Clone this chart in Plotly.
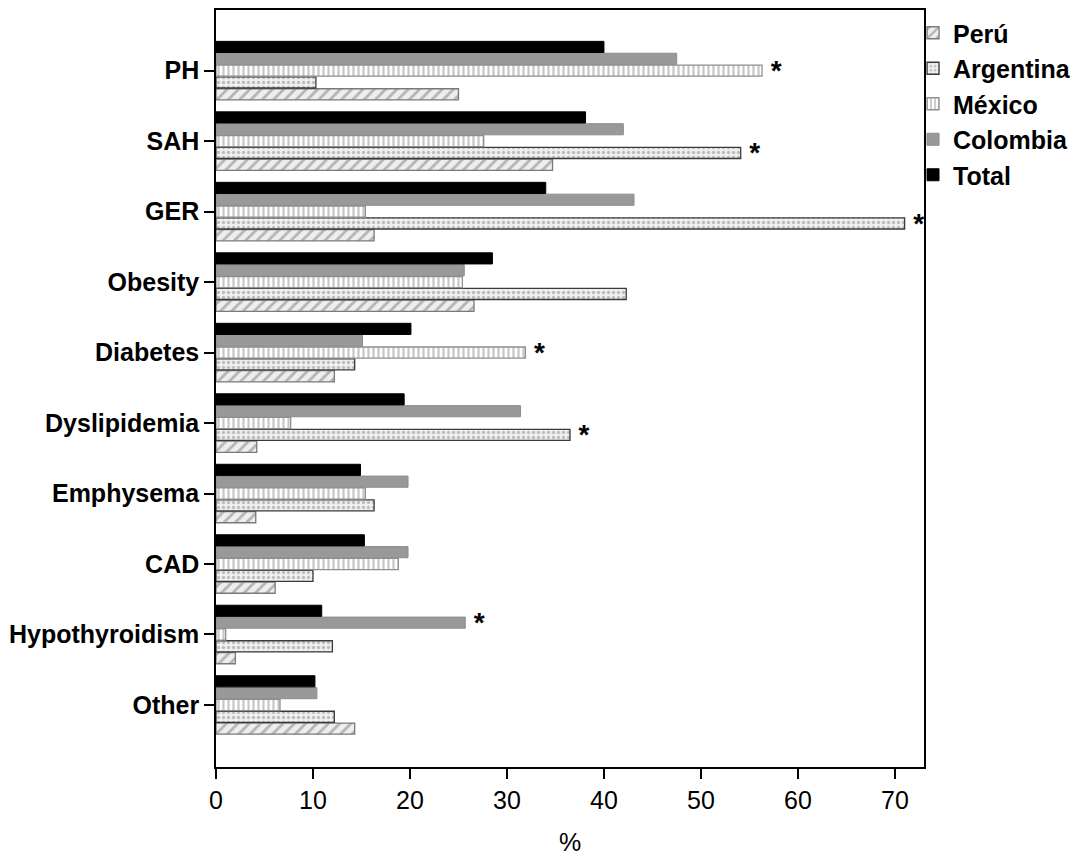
import plotly.graph_objects as go


# Categories from top to bottom of the chart
CATEGORIES = [
    "PH", "SAH", "GER", "Obesity", "Diabetes",
    "Dyslipidemia", "Emphysema", "CAD", "Hypothyroidism", "Other",
]

# Percent values, same order as CATEGORIES
PERU = [25.0, 34.7, 16.3, 26.6, 12.2, 4.2, 4.1, 6.1, 2.0, 14.3]
ARGENTINA = [10.3, 54.1, 71.0, 42.3, 14.3, 36.5, 16.3, 10.0, 12.0, 12.2]
MEXICO = [56.3, 27.6, 15.4, 25.4, 31.9, 7.7, 15.4, 18.8, 1.0, 6.6]
COLOMBIA = [47.5, 42.0, 43.1, 25.6, 15.1, 31.4, 19.8, 19.8, 25.7, 10.4]
TOTAL = [40.0, 38.1, 34.0, 28.5, 20.1, 19.4, 14.9, 15.3, 10.9, 10.2]

# Bars marked with an asterisk (category, series)
SIGNIFICANT = [
    ("PH", "México"),
    ("SAH", "Argentina"),
    ("GER", "Argentina"),
    ("Diabetes", "México"),
    ("Dyslipidemia", "Argentina"),
    ("Hypothyroidism", "Colombia"),
]

X_TICKS = [0, 10, 20, 30, 40, 50, 60, 70]

LABEL_FONT = "Liberation Sans, Arial, sans-serif"
NARROW_FONT = "Liberation Sans Narrow, Arial Narrow, Liberation Sans, Arial, sans-serif"

# name, values, marker style
SERIES = [
    ("Perú", PERU, dict(color="#eeeeee", line=dict(color="#7a7a7a", width=1.3),
                        pattern=dict(shape="/", fgcolor="#7a7a7a", bgcolor="#eeeeee",
                                     size=8, solidity=0.35))),
    ("Argentina", ARGENTINA, dict(color="#eeeeee", line=dict(color="#3a3a3a", width=1.3),
                                  pattern=dict(shape=".", fgcolor="#8a8a8a", bgcolor="#f0f0f0",
                                               size=5, solidity=0.35))),
    ("México", MEXICO, dict(color="#ffffff", line=dict(color="#8f8f8f", width=1.3),
                            pattern=dict(shape="|", fgcolor="#8f8f8f", bgcolor="#ffffff",
                                         size=5, solidity=0.45))),
    ("Colombia", COLOMBIA, dict(color="#999999", line=dict(color="#8c8c8c", width=1))),
    ("Total", TOTAL, dict(color="#000000", line=dict(color="#000000", width=1))),
]


def main() -> None:
    # plot bottom-to-top so that PH ends up on top
    cats = CATEGORIES[::-1]

    fig = go.Figure()
    for name, values, marker in SERIES:
        vals = values[::-1]
        marks = ["\u2009*" if (c, name) in SIGNIFICANT else "" for c in cats]
        fig.add_trace(
            go.Bar(
                y=cats,
                x=vals,
                name=name,
                orientation="h",
                marker=marker,
                text=marks,
                textposition="outside",
                textfont=dict(size=28, color="#000000", family=LABEL_FONT, weight="bold"),
                constraintext="none",
                cliponaxis=False,
            )
        )

    fig.update_layout(
        width=1076,
        height=848,
        paper_bgcolor="white",
        plot_bgcolor="white",
        margin=dict(l=208, r=160, t=2, b=89),
        barmode="group",
        bargap=0.16,
        bargroupgap=0.06,
        showlegend=True,
        legend=dict(
            x=0.9845, y=1.0, xanchor="left", yanchor="top",
            traceorder="normal",
            font=dict(size=25, family=LABEL_FONT, color="#000000", weight="bold"),
            tracegroupgap=0,
            itemwidth=30,
            bgcolor="rgba(0,0,0,0)",
        ),
    )

    fig.update_xaxes(
        range=[0, 73.0],
        tickvals=X_TICKS,
        ticks="outside",
        ticklen=10,
        tickwidth=1.5,
        tickcolor="#000000",
        showline=True,
        linecolor="#000000",
        linewidth=1.5,
        mirror=True,
        showgrid=False,
        zeroline=False,
        automargin=False,
        tickfont=dict(size=25, family=NARROW_FONT, color="#000000"),
        title=dict(text="%", font=dict(size=25, family=NARROW_FONT, color="#000000"),
                   standoff=22),
    )
    fig.update_yaxes(
        type="category",
        categoryorder="array",
        categoryarray=cats,
        range=[-0.88, 9.86],
        ticks="outside",
        ticklen=10,
        tickwidth=1.5,
        tickcolor="#000000",
        showline=True,
        linecolor="#000000",
        linewidth=1.5,
        mirror=True,
        showgrid=False,
        zeroline=False,
        automargin=False,
        tickfont=dict(size=25, family=LABEL_FONT, color="#000000", weight="bold"),
    )

    fig.write_html("out.html")


if __name__ == "__main__":
    main()
